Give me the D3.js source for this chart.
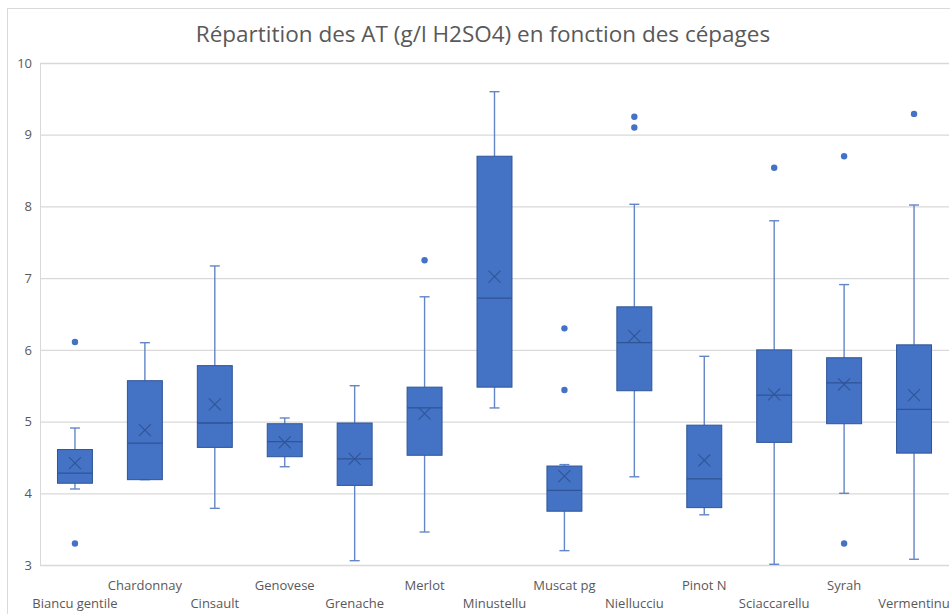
<!DOCTYPE html>
<html>
<head>
<meta charset="utf-8">
<script src="https://cdn.jsdelivr.net/npm/d3@7"></script>
<style>
    body { margin: 0; background: #ffffff; }
    text { font-family: "Open Sans", "Noto Sans", sans-serif; }
</style>
</head>
<body>
<div id="chart"></div>
<script>
//
// Box plot of AT per cepage
//

var categories = ["Biancu gentile", "Chardonnay", "Cinsault", "Genovese", "Grenache", "Merlot", "Minustellu",
    "Muscat pg", "Niellucciu", "Pinot N", "Sciaccarellu", "Syrah", "Vermentinu"];
var whiskerLow = [4.06, 4.19, 3.79, 4.37, 3.06, 3.46, 5.19, 3.20, 4.23, 3.70, 3.01, 4.00, 3.08];
var q1 = [4.14, 4.19, 4.64, 4.51, 4.11, 4.53, 5.48, 3.75, 5.43, 3.80, 4.71, 4.97, 4.56];
var medians = [4.28, 4.70, 4.98, 4.72, 4.48, 5.19, 6.72, 4.04, 6.10, 4.20, 5.37, 5.54, 5.17];
var q3 = [4.61, 5.57, 5.78, 4.97, 4.98, 5.48, 8.70, 4.38, 6.60, 4.95, 6.00, 5.89, 6.07];
var whiskerHigh = [4.91, 6.10, 7.17, 5.05, 5.50, 6.74, 9.60, 4.40, 8.03, 5.91, 7.80, 6.91, 8.02];
var means = [4.42, 4.88, 5.24, 4.71, 4.48, 5.11, 7.02, 4.24, 6.19, 4.46, 5.38, 5.52, 5.37];
var outliers = [[6.11, 3.30], [], [], [], [], [7.25], [], [6.30, 5.44], [9.25, 9.10], [], [8.54], [8.70, 3.30], [9.29]];
var yTicks = [3, 4, 5, 6, 7, 8, 9, 10];

const _width = 950;
const _height = 614;
const _plotLeft = 40;
const _plotRight = 949;
const _plotTop = 63;
const _plotBottom = 565;

var _boxFill = "#4472c4";
var _boxStroke = "#2f5597";
var _whiskerColor = "#6386c6";
var _textColor = "#595959";
var _gridColor = "#d9d9d9";

function drawBoxPlot(divName) {
    var svg = d3.select("#" + divName)
        .append("svg")
        .attr("width", _width)
        .attr("height", _height);

    // chart frame
    svg.append("rect")
        .attr("x", 7.5)
        .attr("y", 8.5)
        .attr("width", _width + 10)
        .attr("height", _height + 10)
        .attr("fill", "#ffffff")
        .attr("stroke", _gridColor);

    svg.append("text")
        .attr("x", 483)
        .attr("y", 42)
        .attr("text-anchor", "middle")
        .attr("fill", _textColor)
        .style("font-size", "22.5px")
        .text("Répartition des AT (g/l H2SO4) en fonction des cépages");

    var x = d3.scaleBand()
        .domain(categories)
        .range([_plotLeft, _plotRight])
        .paddingInner(0.5)
        .paddingOuter(0.25);

    var y = d3.scaleLinear()
        .domain([3, 10])
        .range([_plotBottom, _plotTop]);

    // gridlines
    var yAxis = d3.axisLeft(y)
        .tickValues(yTicks)
        .tickSize(-(_plotRight - _plotLeft))
        .tickPadding(8)
        .tickFormat(d3.format("d"));

    var gy = svg.append("g")
        .attr("class", "y axis")
        .attr("transform", "translate(" + _plotLeft + ",0)")
        .call(yAxis);
    gy.select(".domain").attr("stroke", _gridColor);
    gy.selectAll(".tick line").attr("stroke", _gridColor).attr("stroke-width", 1.3);
    gy.selectAll(".tick text")
        .attr("fill", _textColor)
        .style("font-size", "13px");

    // x labels, staggered on two rows
    svg.append("g")
        .selectAll("text")
        .data(categories)
        .join("text")
        .attr("x", d => x(d) + x.bandwidth() / 2)
        .attr("y", (d, i) => i % 2 == 0 ? 608 : 590)
        .attr("text-anchor", "middle")
        .attr("fill", _textColor)
        .style("font-size", "13px")
        .text(d => d);

    var boxes = svg.append("g")
        .selectAll("g")
        .data(categories)
        .join("g");

    var bw = x.bandwidth();

    // whiskers
    boxes.append("line")
        .attr("x1", d => x(d) + bw / 2)
        .attr("x2", d => x(d) + bw / 2)
        .attr("y1", (d, i) => y(whiskerHigh[i]))
        .attr("y2", (d, i) => y(q3[i]))
        .attr("stroke", _whiskerColor)
        .attr("stroke-width", 1.4);
    boxes.append("line")
        .attr("x1", d => x(d) + bw / 2)
        .attr("x2", d => x(d) + bw / 2)
        .attr("y1", (d, i) => y(q1[i]))
        .attr("y2", (d, i) => y(whiskerLow[i]))
        .attr("stroke", _whiskerColor)
        .attr("stroke-width", 1.4);
    boxes.append("line")
        .attr("x1", d => x(d) + bw / 2 - 5)
        .attr("x2", d => x(d) + bw / 2 + 5)
        .attr("y1", (d, i) => y(whiskerHigh[i]))
        .attr("y2", (d, i) => y(whiskerHigh[i]))
        .attr("stroke", _whiskerColor)
        .attr("stroke-width", 1.4);
    boxes.append("line")
        .attr("x1", d => x(d) + bw / 2 - 5)
        .attr("x2", d => x(d) + bw / 2 + 5)
        .attr("y1", (d, i) => y(whiskerLow[i]))
        .attr("y2", (d, i) => y(whiskerLow[i]))
        .attr("stroke", _whiskerColor)
        .attr("stroke-width", 1.4);

    // box
    boxes.append("rect")
        .attr("x", d => x(d))
        .attr("y", (d, i) => y(q3[i]))
        .attr("width", bw)
        .attr("height", (d, i) => y(q1[i]) - y(q3[i]))
        .attr("fill", _boxFill)
        .attr("stroke", _boxStroke)
        .attr("stroke-width", 1);

    // median
    boxes.append("line")
        .attr("x1", d => x(d))
        .attr("x2", d => x(d) + bw)
        .attr("y1", (d, i) => y(medians[i]))
        .attr("y2", (d, i) => y(medians[i]))
        .attr("stroke", _boxStroke)
        .attr("stroke-width", 1.3);

    // mean marker (X)
    var m = 6;
    boxes.append("path")
        .attr("d", function (d, i) {
            var cx = x(d) + bw / 2, cy = y(means[i]);
            return "M" + (cx - m) + "," + (cy - m) + "L" + (cx + m) + "," + (cy + m)
                + "M" + (cx - m) + "," + (cy + m) + "L" + (cx + m) + "," + (cy - m);
        })
        .attr("fill", "none")
        .attr("stroke", _boxStroke)
        .attr("stroke-width", 1.1);

    // outliers
    boxes.selectAll("circle")
        .data((d, i) => outliers[i].map(v => ({ cat: d, v: v })))
        .join("circle")
        .attr("cx", d => x(d.cat) + bw / 2)
        .attr("cy", d => y(d.v))
        .attr("r", 3.2)
        .attr("fill", _boxFill);
}

drawBoxPlot("chart");
</script>
</body>
</html>
